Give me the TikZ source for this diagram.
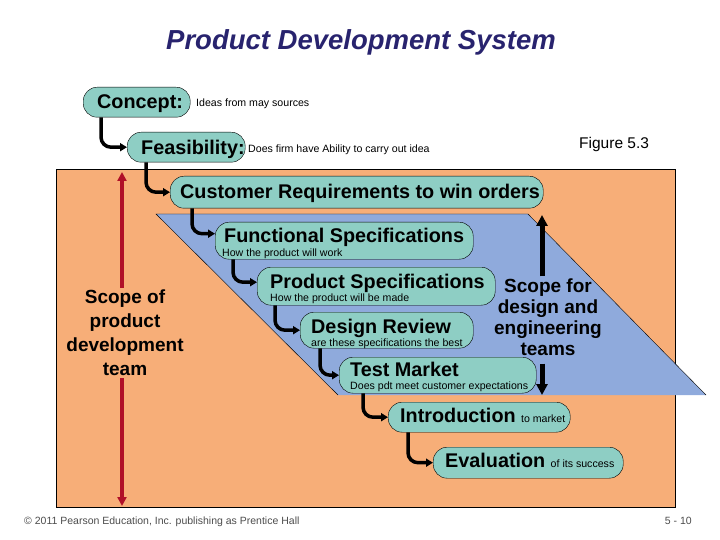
\documentclass[tikz,border=0pt]{standalone}
\usepackage{fontspec}
\setmainfont{Liberation Sans}
\usetikzlibrary{arrows.meta}

\definecolor{pdorange}{RGB}{247,174,120}
\definecolor{pdblue}{RGB}{143,170,220}
\definecolor{pdteal}{RGB}{142,206,196}
\definecolor{pdnavy}{RGB}{40,35,110}
\definecolor{pdred}{RGB}{176,16,40}

\tikzset{
    stage box/.style={
        draw,thin,rounded corners=14pt,
        fill=pdteal,
        anchor=north west,inner sep=0pt
    },
    stage title/.style={
        anchor=base west,inner sep=0pt,
        font=\fontsize{19.8}{19.8}\selectfont\bfseries
    },
    stage note/.style={
        anchor=base west,inner sep=0pt,
        font=\fontsize{10.6}{10.6}\selectfont
    },
    flow arrow/.style={
        line width=3.5pt,rounded corners=10pt,
        -{Triangle[length=7pt,width=8pt]}
    },
    scope text/.style={
        align=center,inner sep=2pt,
        font=\fontsize{19}{24}\selectfont\bfseries
    }
}

\begin{document}
\begin{tikzpicture}[x=1pt,y=-1pt]
        \useasboundingbox (0,0) rectangle (720,540);
        % background areas
        \filldraw[fill=pdorange,draw=black,thin] (56,169) rectangle (675,507);
        \fill[pdblue] (156,214) -- (528,214) -- (706,395) -- (338,395) -- cycle;
        \draw[thin] (338,395) -- (156,214) -- (528,214) -- (706,395);

        \node[font=\fontsize{27.5}{27.5}\selectfont\bfseries\itshape,text=pdnavy] (title) at (361,42) {Product Development System};
        \node[anchor=base west,inner sep=0pt,font=\fontsize{15.5}{15.5}\selectfont] (fig) at (579,149) {Figure 5.3};

        % stages
        \node[stage box,minimum width=107,minimum height=30] (concept) at (83,87) {};
        \node[stage box,minimum width=118,minimum height=30] (feas) at (127,132) {};
        \node[stage box,minimum width=373,minimum height=32] (cust) at (170,176) {};
        \node[stage box,minimum width=258,minimum height=37] (func) at (215,222) {};
        \node[stage box,minimum width=238,minimum height=38] (prod) at (257,267) {};
        \node[stage box,minimum width=173,minimum height=36] (design) at (300,312) {};
        \node[stage box,minimum width=197,minimum height=36] (test) at (339,357) {};
        \node[stage box,minimum width=182,minimum height=30] (intro) at (388,402) {};
        \node[stage box,minimum width=190,minimum height=31] (eval) at (433,447) {};

        \node[stage title] (conceptT) at (97,109) {Concept:};
        \node[stage title] (feasT) at (141,155) {Feasibility:};
        \node[stage title] (custT) at (180,199) {Customer Requirements to win orders};
        \node[stage title] (funcT) at (224,243) {Functional Specifications};
        \node[stage title] (prodT) at (270,288) {Product Specifications};
        \node[stage title] (designT) at (311,333) {Design Review};
        \node[stage title] (testT) at (350,376) {Test Market};
        \node[stage title] (introT) at (400,422) {Introduction};
        \node[stage title] (evalT) at (445,467) {Evaluation};

        \node[stage note] at (196,107) {Ideas from may sources};
        \node[stage note] at (248,153) {Does firm have Ability to carry out idea};
        \node[stage note] at (222,256) {How the product will work};
        \node[stage note] at (270,301) {How the product will be made};
        \node[stage note] at (311,346) {are these specifications the best};
        \node[stage note] at (350,389) {Does pdt meet customer expectations};
        \node[stage note] at ([xshift=5pt]introT.base east) {to market};
        \node[stage note] at ([xshift=5pt]evalT.base east) {of its success};

        \draw[flow arrow] ([xshift=18pt]concept.south west) |- (feas.west);
        \draw[flow arrow] ([xshift=19pt]feas.south west) |- (cust.west);
        \draw[flow arrow] ([xshift=22pt]cust.south west) |- ([yshift=7pt]func.west);
        \draw[flow arrow] ([xshift=18pt]func.south west) |- ([yshift=4pt]prod.west);
        \draw[flow arrow] ([xshift=18pt]prod.south west) |- (design.west);
        \draw[flow arrow] ([xshift=20pt]design.south west) |- (test.west);
        \draw[flow arrow] ([xshift=24pt]test.south west) |- (intro.west);
        \draw[flow arrow] ([xshift=20pt]intro.south west) |- (eval.west);

        % scopes
        \node[scope text] (scopePD) at (125,333) {Scope of\\product\\development\\team};
        \node[scope text,font=\fontsize{19}{21}\selectfont\bfseries] (scopeDE) at (548,317) {Scope for\\design and\\engineering\\teams};
        \coordinate (redtop) at (122,172);
        \coordinate (redbot) at (122,506);
        \draw[pdred,line width=3.5pt,-{Triangle[length=9pt,width=9pt]}] (scopePD.north -| redtop) -- (redtop);
        \draw[pdred,line width=3.5pt,-{Triangle[length=9pt,width=9pt]}] (scopePD.south -| redbot) -- (redbot);
        \coordinate (uptip) at (542,215);
        \coordinate (dntip) at (542,395);
        \draw[line width=5pt,-{Triangle[length=11pt,width=11pt]}] (scopeDE.north -| uptip) -- (uptip);
        \draw[line width=5pt,-{Triangle[length=11pt,width=11pt]}] ([yshift=-6pt]scopeDE.south -| dntip) -- (dntip);

        \node[anchor=base west,inner sep=0pt,font=\fontsize{10.5}{10.5}\selectfont,text=black!70] (copy) at (24,524) {\textcopyright{} 2011 Pearson Education, Inc. publishing as Prentice Hall};
        \node[anchor=base east,inner sep=0pt,font=\fontsize{10.5}{10.5}\selectfont,text=black!70] (page) at (692,524) {5 - 10};
    \end{tikzpicture}
\end{document}
